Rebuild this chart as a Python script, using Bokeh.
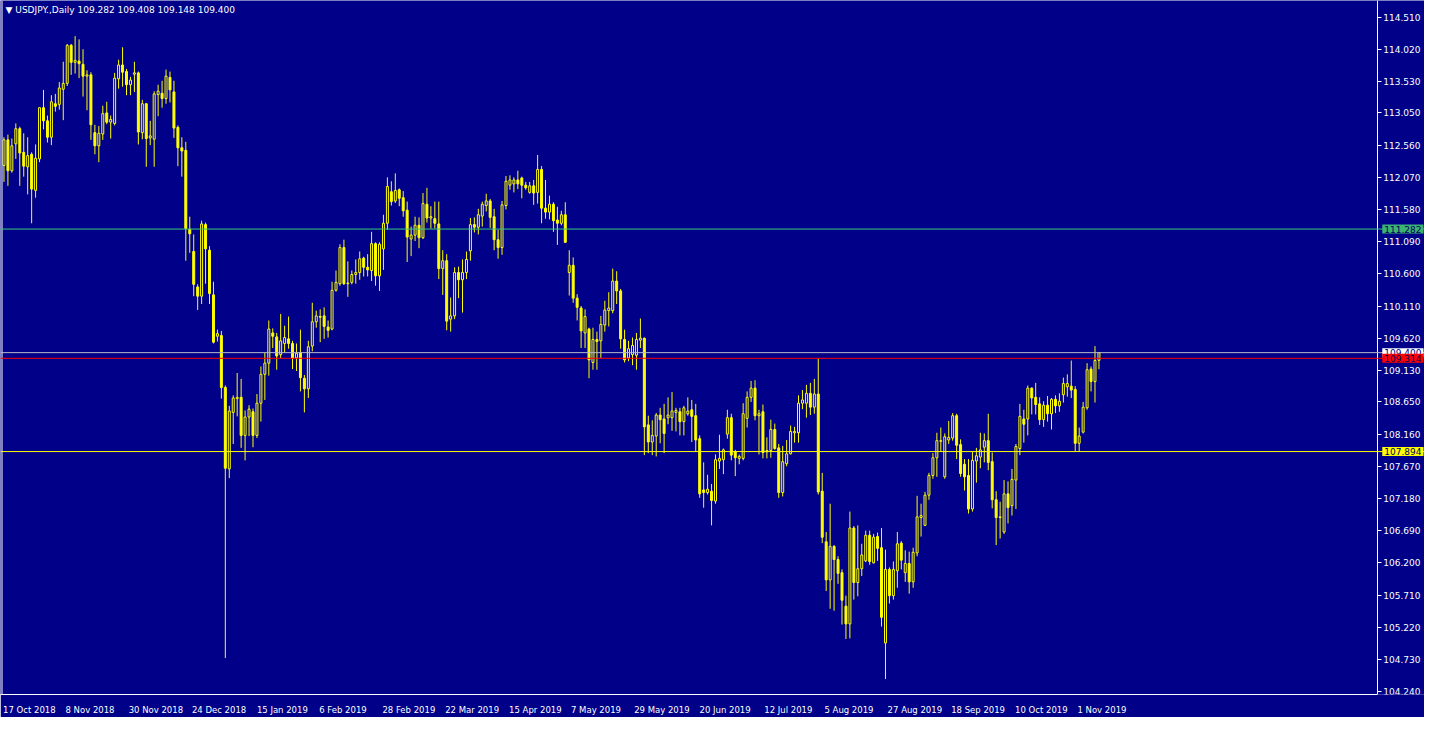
from bokeh.plotting import figure
from bokeh.models import ColumnDataSource, Span, Label, FixedTicker, PrintfTickFormatter, Range1d
from bokeh.embed import file_html
from bokeh.resources import INLINE

symbol_title = "USDJPY.,Daily"

opens = [
    112.25,112.64,112.17,112.58,112.81,112.45,112.23,112.42,111.87,112.35,
    113.13,112.93,112.68,113.19,113.18,113.41,113.50,114.08,113.82,113.84,
    113.79,113.61,113.63,112.75,112.55,112.73,113.05,112.91,112.89,113.57,
    113.78,113.68,113.48,113.64,113.66,112.75,113.19,112.67,112.65,113.33,
    113.35,113.27,113.59,113.37,112.83,112.52,112.48,111.28,110.94,110.40,
    110.26,111.35,110.96,110.28,109.65,109.66,108.87,107.63,108.49,108.70,
    108.72,108.14,108.42,108.50,108.14,108.63,109.07,109.24,109.70,109.64,
    109.37,109.54,109.61,109.54,109.32,109.40,109.01,108.85,109.50,109.87,
    109.95,109.96,109.79,109.76,110.35,110.45,111.00,110.45,110.47,110.59,
    110.62,110.84,110.70,110.65,111.06,110.57,110.98,111.37,111.85,111.71,
    111.88,111.76,111.57,111.13,111.19,111.34,111.15,111.66,111.45,111.44,
    111.36,110.68,110.80,109.91,109.96,110.62,110.51,110.62,110.95,111.35,
    111.31,111.48,111.64,111.71,111.47,111.12,111.00,111.64,111.95,111.97,
    112.03,112.06,111.95,111.84,111.94,111.84,112.19,111.60,111.54,111.66,
    111.42,111.37,111.50,110.62,110.73,110.23,110.08,109.70,109.76,109.25,
    109.60,109.58,109.82,110.04,110.04,110.49,110.34,109.60,109.32,109.37,
    109.36,109.59,109.62,108.30,108.04,108.13,108.45,108.39,108.41,108.41,
    108.49,108.50,108.35,108.47,108.53,108.44,108.09,107.31,107.27,107.29,
    107.14,107.75,107.77,108.16,108.41,107.89,107.79,107.79,108.40,108.72,
    108.86,108.44,108.50,107.89,107.91,108.23,107.95,107.27,107.71,107.86,
    108.18,108.18,108.63,108.63,108.78,108.57,108.77,107.29,106.52,105.94,
    106.45,106.25,106.05,105.54,105.27,106.73,105.90,106.11,106.23,106.62,
    106.20,106.60,106.43,104.98,106.10,105.70,106.08,106.50,106.05,106.19,
    105.91,106.35,106.89,106.77,107.23,107.53,107.80,108.05,107.51,108.07,
    108.10,108.44,108.00,107.70,107.53,107.02,107.75,107.81,107.96,108.06,
    107.74,107.16,106.89,106.67,107.25,107.07,107.46,107.94,108.39,108.39,
    108.86,108.72,108.62,108.38,108.60,108.47,108.69,108.59,108.76,108.88,
    108.89,108.84,108.02,108.19,108.56,109.15,108.96,109.282,
]
highs = [
    112.68,112.72,112.66,112.89,112.84,112.74,112.68,112.45,112.57,113.13,
    113.40,113.01,113.32,113.34,113.52,113.83,114.10,114.10,114.22,114.17,
    114.02,113.70,113.67,112.87,112.85,113.16,113.22,113.01,113.66,113.86,
    114.05,113.72,113.60,113.83,113.68,113.25,113.20,112.93,113.38,113.48,
    113.54,113.71,113.68,113.54,112.86,112.68,112.61,111.47,111.20,110.44,
    111.41,111.38,111.02,110.48,109.75,109.73,108.90,108.59,108.75,109.09,
    109.00,108.52,108.60,108.55,108.77,109.19,109.40,109.89,109.77,109.70,
    109.99,109.81,109.95,109.58,109.54,109.75,109.06,109.58,110.16,110.04,
    110.06,110.09,109.89,110.48,110.65,111.05,111.12,110.79,110.65,110.82,
    110.94,110.86,110.90,111.24,111.08,111.08,111.50,112.07,112.01,112.13,
    111.90,111.86,111.70,111.32,111.47,111.46,111.83,111.91,111.63,111.70,
    111.70,110.96,110.90,110.24,110.70,110.71,110.82,110.94,111.45,111.46,
    111.59,111.70,111.82,111.74,111.59,111.27,111.71,112.09,112.10,112.07,
    112.17,112.08,112.00,112.00,112.03,112.41,112.24,112.03,111.79,111.69,
    111.62,111.56,111.69,110.96,110.85,110.29,110.11,110.06,109.78,109.78,
    109.72,109.96,110.19,110.32,110.68,110.64,110.37,109.75,109.58,109.63,
    109.70,109.92,109.63,108.44,108.37,108.48,108.56,108.62,108.72,108.80,
    108.56,108.56,108.59,108.72,108.68,108.62,108.14,107.73,107.54,107.40,
    107.85,108.15,107.94,108.53,108.47,107.92,107.85,108.63,108.81,108.97,
    108.98,108.53,108.61,108.11,108.38,108.32,108.01,107.98,108.07,108.29,
    108.27,108.75,108.83,108.91,108.94,109.00,109.31,107.57,106.67,107.10,
    106.47,106.30,106.10,105.70,106.98,106.76,106.77,106.49,106.69,106.69,
    106.64,106.66,106.73,106.40,106.13,106.22,106.67,106.53,106.39,106.37,
    106.43,107.22,107.10,107.28,107.57,107.87,108.18,108.26,108.17,108.36,
    108.48,108.47,108.08,107.78,107.78,107.89,107.95,108.18,108.17,108.47,
    107.88,107.29,107.13,107.46,107.44,107.63,108.01,108.62,108.53,108.90,
    108.87,108.94,108.72,108.66,108.74,108.71,108.75,108.78,109.02,109.07,
    109.28,108.89,108.26,108.65,109.24,109.19,109.50,109.408,
]
lows = [
    112.00,111.94,112.14,112.35,111.94,112.08,111.81,111.37,111.76,112.30,
    112.80,112.60,112.56,113.07,113.10,112.94,113.46,113.63,113.65,113.58,
    113.30,113.09,112.64,112.42,112.30,112.64,112.88,112.66,112.86,113.42,
    113.45,113.32,113.32,113.37,112.57,112.65,112.23,112.56,112.23,113.00,
    113.13,113.19,113.21,112.67,112.24,112.08,110.80,110.92,110.26,110.05,
    110.14,110.45,110.14,109.54,109.57,108.70,104.75,107.49,108.01,108.43,
    107.95,107.76,108.13,107.96,108.10,108.35,108.68,109.05,109.47,109.14,
    109.32,109.40,109.46,109.15,109.12,108.81,108.49,108.71,109.42,109.78,
    109.56,109.61,109.63,109.74,110.33,110.42,110.43,110.25,110.44,110.45,
    110.51,110.56,110.56,110.49,110.42,110.34,110.66,111.27,111.64,111.68,
    111.63,111.47,110.78,110.87,111.10,110.99,111.13,111.38,111.29,111.29,
    110.52,110.28,109.74,109.72,109.91,110.23,110.01,110.52,110.80,111.23,
    111.20,111.32,111.55,111.30,110.96,110.83,110.89,111.58,111.88,111.84,
    111.89,111.75,111.88,111.82,111.65,111.67,111.37,111.44,111.43,111.24,
    111.04,111.34,111.07,110.27,110.16,109.89,109.47,109.47,109.01,109.14,
    109.14,109.32,109.72,109.80,110.00,110.14,109.46,109.25,109.27,109.21,
    109.14,109.47,107.84,107.87,107.84,107.82,108.02,107.87,108.31,108.21,
    108.20,108.14,108.14,108.44,108.04,107.89,107.19,107.04,107.24,106.77,
    107.10,107.63,107.55,108.09,107.76,107.52,107.70,107.76,108.26,108.65,
    108.37,107.85,107.79,107.79,107.80,107.92,107.19,107.21,107.67,107.85,
    108.03,108.03,108.54,108.41,108.45,108.47,107.24,106.50,105.77,105.50,
    105.47,105.88,105.26,105.04,105.05,105.64,105.69,106.00,106.21,106.17,
    106.19,106.23,105.23,104.43,105.58,105.64,105.82,106.10,105.91,105.73,
    105.82,106.30,106.60,106.76,107.16,107.48,107.51,107.89,107.48,108.01,
    108.06,107.78,107.51,107.30,106.95,106.98,107.42,107.64,107.73,107.61,
    107.03,106.47,106.57,106.64,106.80,106.92,107.02,107.84,108.03,108.14,
    108.46,108.46,108.30,108.27,108.35,108.23,108.48,108.50,108.64,108.73,
    108.71,107.90,107.89,108.17,108.53,108.81,108.64,109.148,
]
closes = [
    112.64,112.17,112.55,112.81,112.44,112.24,112.40,111.89,112.36,113.13,
    112.93,112.68,113.22,113.15,113.43,113.50,114.08,113.82,113.85,113.80,
    113.61,113.63,112.87,112.55,112.74,113.04,112.91,112.95,113.58,113.78,
    113.67,113.48,113.55,113.66,112.76,113.19,112.66,112.70,113.34,113.38,
    113.27,113.61,113.40,112.82,112.52,112.47,111.29,111.21,110.44,110.26,
    111.36,110.98,110.30,109.56,109.69,108.87,107.64,108.51,108.71,108.72,
    108.14,108.42,108.54,108.14,108.63,109.07,109.24,109.76,109.65,109.35,
    109.58,109.63,109.54,109.32,109.39,109.02,108.85,109.49,109.87,109.96,
    109.94,109.80,109.74,110.35,110.47,111.00,110.45,110.46,110.59,110.62,
    110.83,110.70,110.66,111.06,110.57,111.05,111.37,111.93,111.70,111.87,
    111.75,111.56,111.16,111.19,111.34,111.15,111.67,111.45,111.47,111.37,
    110.68,110.80,109.88,109.96,110.62,110.51,110.62,110.82,111.35,111.31,
    111.50,111.66,111.71,111.46,111.12,111.00,111.65,112.01,112.03,112.03,
    111.97,111.95,111.91,111.94,111.83,112.19,111.60,111.54,111.66,111.41,
    111.37,111.50,111.08,110.73,110.23,110.09,109.73,109.95,109.29,109.60,
    109.57,109.83,110.05,110.08,110.49,110.34,109.61,109.29,109.46,109.51,
    109.60,109.62,108.27,108.04,108.14,108.45,108.38,108.17,108.45,108.51,
    108.52,108.35,108.56,108.51,108.43,108.07,107.25,107.27,107.32,107.15,
    107.77,107.79,107.92,108.41,107.84,107.80,107.82,108.47,108.72,108.86,
    108.44,108.47,107.88,107.91,108.23,107.94,107.27,107.74,107.86,108.20,
    108.20,108.63,108.68,108.78,108.57,108.77,107.28,106.59,105.94,106.45,
    106.25,106.04,105.63,105.27,106.73,105.90,106.11,106.32,106.62,106.22,
    106.59,106.42,105.37,106.10,105.70,106.10,106.49,106.24,106.19,105.91,
    106.36,106.90,106.92,107.23,107.53,107.80,108.06,108.06,108.12,108.11,
    108.44,107.99,107.56,107.51,107.02,107.76,107.83,107.92,108.06,107.73,
    107.16,106.89,106.90,107.25,107.04,107.47,107.97,108.43,108.31,108.86,
    108.71,108.61,108.38,108.60,108.47,108.69,108.59,108.66,108.93,108.93,
    108.83,108.02,108.13,108.57,109.14,108.96,109.28,109.400,
]

date_labels = ["17 Oct 2018", "8 Nov 2018", "30 Nov 2018", "24 Dec 2018", "15 Jan 2019",
               "6 Feb 2019", "28 Feb 2019", "22 Mar 2019", "15 Apr 2019", "7 May 2019",
               "29 May 2019", "20 Jun 2019", "12 Jul 2019", "5 Aug 2019", "27 Aug 2019",
               "18 Sep 2019", "10 Oct 2019", "1 Nov 2019"]
bars_per_label = 16

price_ticks = [114.510, 114.020, 113.530, 113.050, 112.560, 112.070, 111.580, 111.090,
               110.600, 110.110, 109.620, 109.130, 108.650, 108.160, 107.670, 107.180,
               106.690, 106.200, 105.710, 105.220, 104.730, 104.240]

level_prices = [111.282, 109.400, 109.314, 107.894]
level_line_colors = ["#3cc878", "#b8b8c8", "#ff0000", "#ffff00"]
level_box_colors = ["#3cb371", "#ffffff", "#ff0000", "#ffff00"]
level_text_colors = ["#000060", "#000080", "#000060", "#000060"]

n = len(opens)
assert len(highs) == n and len(lows) == n and len(closes) == n, (n, len(highs), len(lows), len(closes))

BG = "#000088"
CANDLE = "#ffff00"
FONT = "DejaVu Sans"
FS = "8.5px"
FS_AXIS = "9px"

W, H = 1424, 717
FRAME_W = W - 8                 # Bokeh keeps a thin right border
AXIS_AREA, BOTTOM = 47, 21
x_start, axis_x = -0.875, 347.4
y_start, y_end = 104.195, 114.762
frame_h = H - BOTTOM
ppb = (FRAME_W - AXIS_AREA) / (axis_x - x_start)   # pixels per bar
ppu = frame_h / (y_end - y_start)                  # pixels per yen
x_end = x_start + FRAME_W / ppb

src = ColumnDataSource(dict(
    x=list(range(n)), o=opens, h=highs, l=lows, c=closes,
    top=[max(a, b) for a, b in zip(opens, closes)],
    bottom=[min(a, b) for a, b in zip(opens, closes)],
    fill=[BG if c >= o else CANDLE for o, c in zip(opens, closes)],
))

p = figure(width=W, height=H, x_range=Range1d(x_start, x_end), y_range=Range1d(y_start, y_end),
           y_axis_location="right", output_backend="svg", toolbar_location=None,
           min_border_left=0, min_border_right=0, min_border_top=0, min_border_bottom=BOTTOM,
           background_fill_color=BG, border_fill_color=BG, outline_line_color=None)
p.grid.visible = False

p.segment(x0="x", y0="l", x1="x", y1="h", source=src, line_color=CANDLE, line_width=1)
p.vbar(x="x", top="top", bottom="bottom", width=0.5, source=src,
       fill_color="fill", line_color=CANDLE, line_width=1)

# left border line
p.add_layout(Span(location=x_start + 1.5 / ppb, dimension="height", line_color="white", line_width=1))

for price, lc in zip(level_prices, level_line_colors):
    p.add_layout(Span(location=price, dimension="width", line_color=lc, line_width=1))

yax = p.yaxis[0]
yax.fixed_location = axis_x
yax.ticker = FixedTicker(ticks=price_ticks)
yax.formatter = PrintfTickFormatter(format="%.3f")
yax.axis_line_color = "white"
yax.major_tick_line_color = "white"
yax.major_tick_out = 4
yax.major_tick_in = 0
yax.minor_tick_line_color = None
yax.major_label_text_color = "white"
yax.major_label_text_font = FONT
yax.major_label_text_font_size = FS_AXIS
yax.major_label_standoff = 2


def text_w(s):
    return sum(0.32 * 8.5 if ch == " " else 0.61 * 8.5 for ch in s)


tick_pos = []
overrides = {}
for k, lab in enumerate(date_labels):
    t = round(k * bars_per_label - 0.2 + text_w(lab) / 2 / ppb, 3)
    tick_pos.append(t)
    overrides[t] = lab

xax = p.xaxis[0]
xax.bounds = (x_start, axis_x)
xax.ticker = FixedTicker(ticks=tick_pos)
xax.major_label_overrides = overrides
xax.axis_line_color = "white"
xax.major_tick_line_color = None
xax.minor_tick_line_color = None
xax.major_label_text_color = "white"
xax.major_label_text_font = FONT
xax.major_label_text_font_size = FS
xax.major_label_standoff = 4

# price level boxes on the price scale
for price, bc, tc in zip(level_prices, level_box_colors, level_text_colors):
    p.add_layout(Label(x=axis_x + 5 / ppb, y=price, text=f"{price:.3f}",
                       text_align="left", text_baseline="middle",
                       text_color=tc, text_font=FONT, text_font_size=FS_AXIS,
                       background_fill_color=bc, padding=dict(left=2, right=2, top=1, bottom=1)))

hdr = "\u25bc  {}  {:.3f} {:.3f} {:.3f} {:.3f}".format(symbol_title, opens[-1], highs[-1], lows[-1], closes[-1])
p.add_layout(Label(x=x_start + 5 / ppb, y=y_end - 10 / ppu, text=hdr, text_align="left",
                   text_baseline="middle", text_color="white", text_font=FONT, text_font_size="9px"))

open("out.html", "w").write(file_html(p, INLINE, title="USDJPY Daily"))
